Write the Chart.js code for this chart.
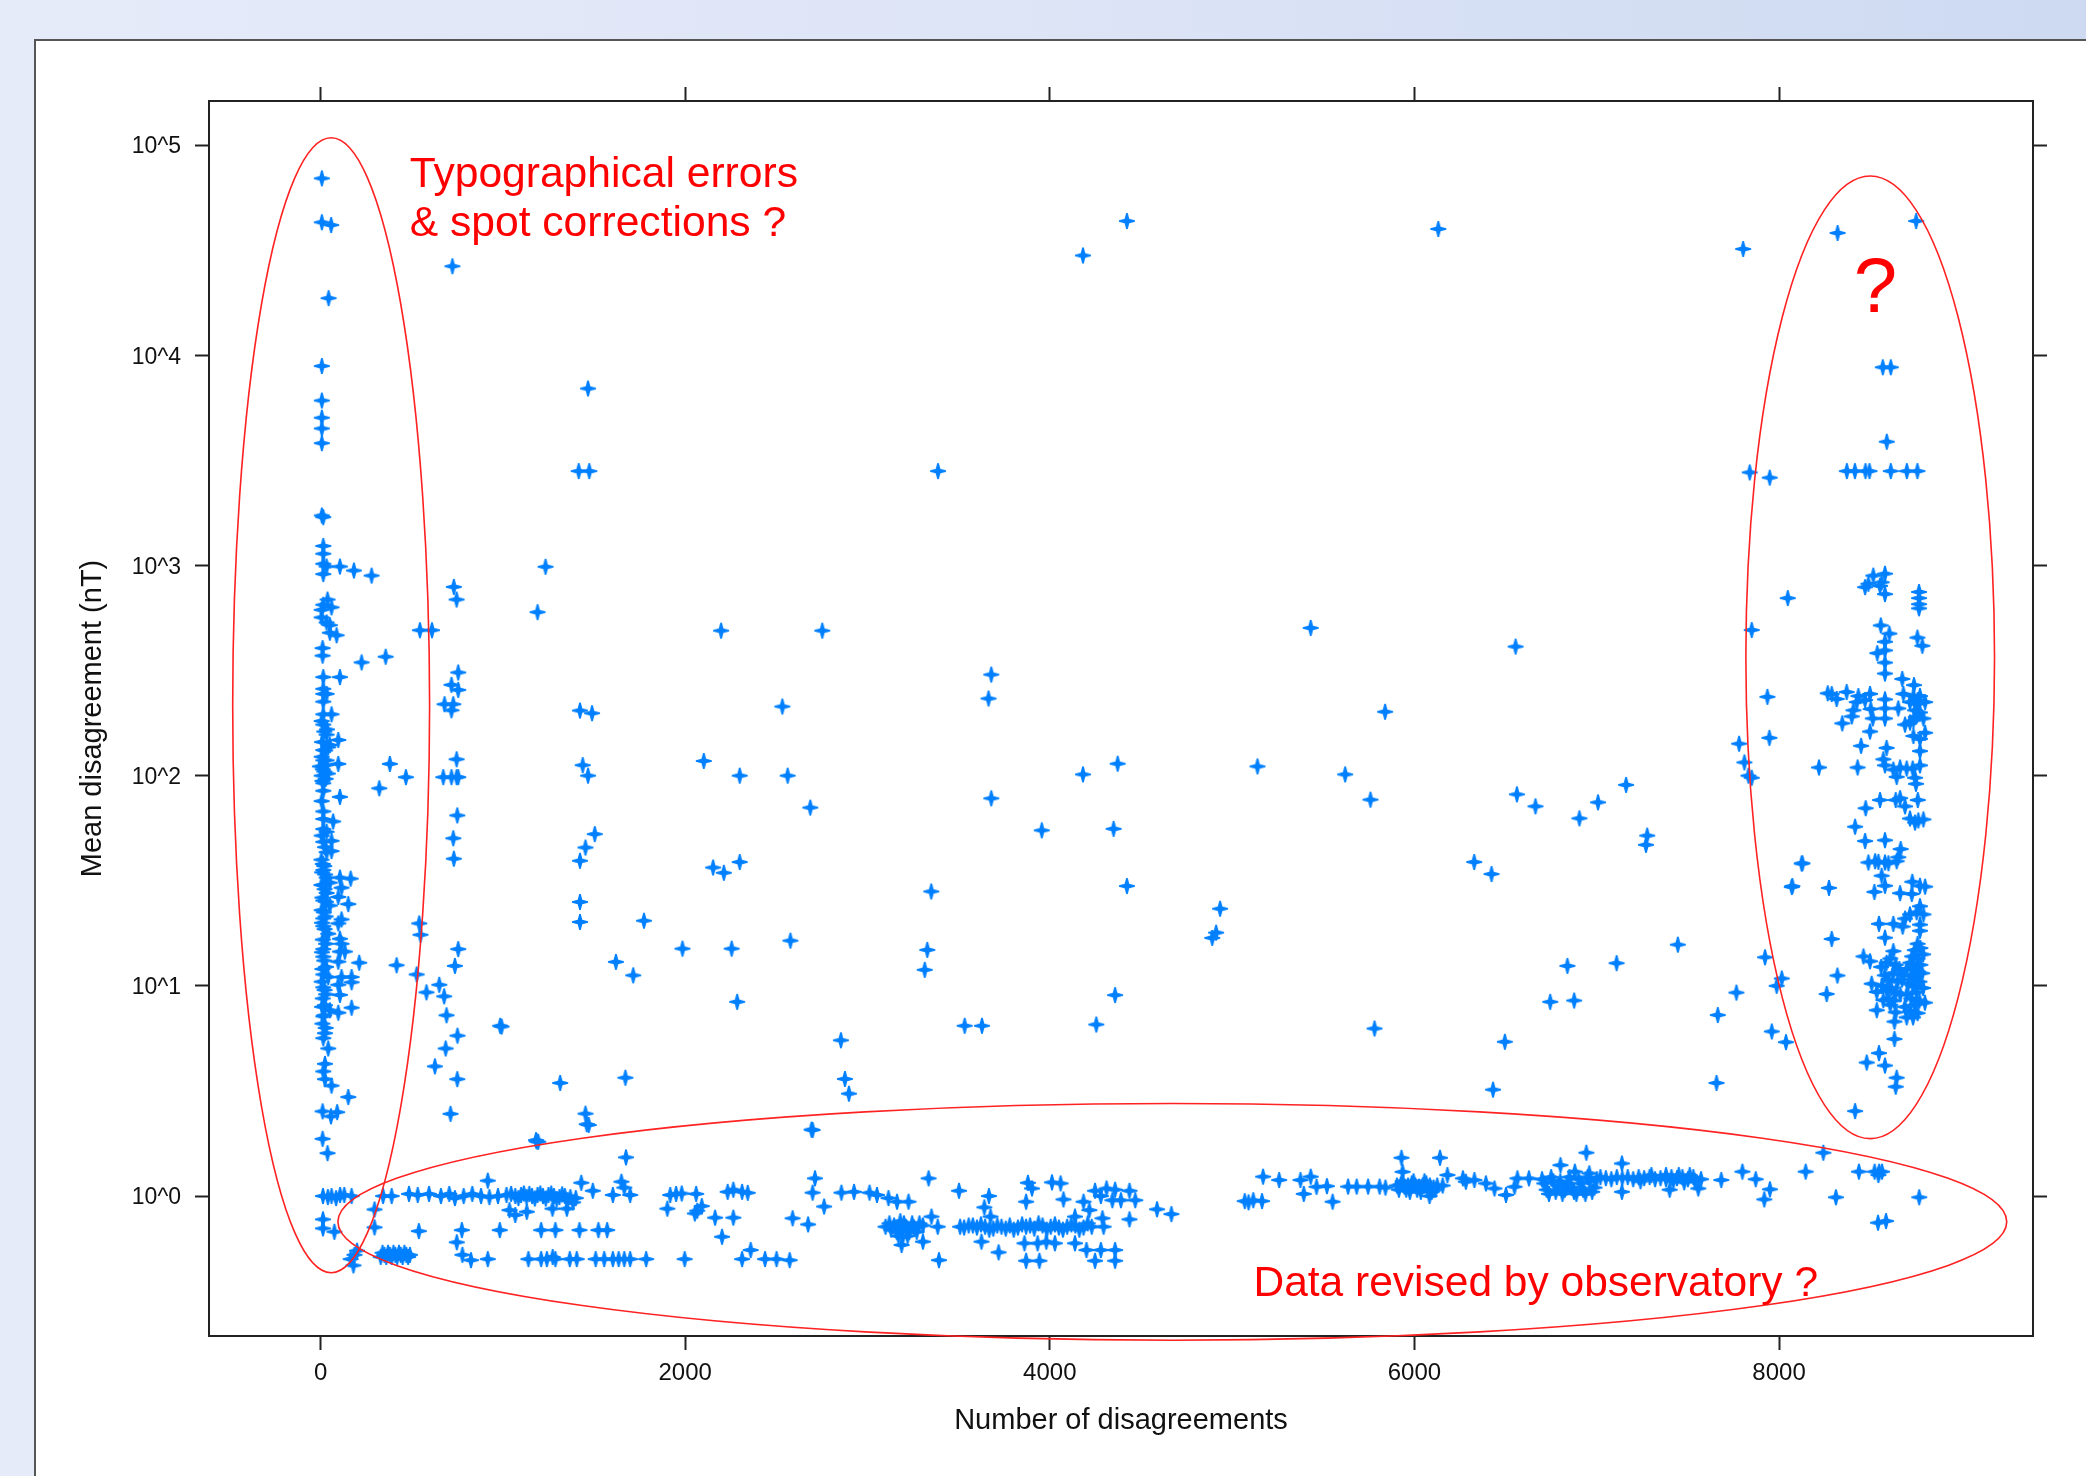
<!DOCTYPE html>
<html>
<head>
<meta charset="utf-8">
<title>Mean disagreement vs number of disagreements</title>
<script src="https://cdn.jsdelivr.net/npm/chart.js@4/dist/chart.umd.min.js"></script>
<style>
html, body { margin: 0; padding: 0; width: 2086px; height: 1476px; overflow: hidden; }
body { background: linear-gradient(90deg, #e5ebf9 0%, #dde4f6 50%, #cddaf1 100%); position: relative; }
#panel { position: absolute; left: 34px; top: 39px; right: 0; bottom: 0; background: #fff; border-left: 2px solid #555; border-top: 2px solid #555; }
#chart { position: absolute; left: 0; top: 0; }
</style>
</head>
<body>
<div id="panel"></div>
<canvas id="chart" width="2086" height="1476"></canvas>
<script>
/* data: [number of disagreements, log10(mean disagreement in nT)] */
var typoTop = [[7,4.842],[7,4.633],[58,4.62],[44,4.272],[7,3.949],[7,3.785],[7,3.703],[7,3.652],[7,3.582],
    [7,3.238],[15,3.23],[15,3.093],[15,3.056],[15,3.008],[33,2.995],[106,2.995],[183,2.976],[280,2.952],[15,2.959]];
var typoColumn = [[38,2.838],[60,2.801],[15,2.813],[6,2.789],[6,2.753],[33,2.729],[51,2.716],[88,2.668],[51,2.68],
    [11,2.607],[11,2.571],[225,2.539],[357,2.566],[15,2.469],[106,2.469],[15,2.413],[15,2.389],[33,2.389],[15,2.352],
    [15,2.292],[60,2.292],[15,2.243],[33,2.195],[97,2.17],[51,2.146],[15,2.122],[42,2.135],[15,2.073],[33,2.073],
    [97,2.056],[-4,2.044],[6,2],[15,1.964],[20,2.02],[28,1.985],[10,1.975],[106,1.899],[15,1.928],[6,1.879],[15,1.83],
    [15,1.794],[69,1.782],[15,1.746],[33,1.733],[60,1.69],[15,1.685],[33,1.636],[60,1.641],[6,1.715],[24,1.66],
    [15,1.551],[33,1.515],[106,1.515],[165,1.51],[15,1.479],[51,1.491],[115,1.467],[33,1.442],[97,1.423],[152,1.389],
    [15,1.406],[51,1.382],[15,1.321],[115,1.316],[97,1.297],[15,1.284],[42,1.248],[106,1.224],[115,1.2],[15,1.175],
    [106,1.163],[133,1.163],[15,1.139],[97,1.115],[212,1.11],[15,1.054],[42,1.042],[115,1.042],[170,1.042],[15,.993],
    [97,1.005],[170,1.017],[106,.957],[24,.908],[170,.896],[97,.872],[15,.855],[51,.884],[24,.775],[15,.751],[42,.702],
    [24,.629],[15,.593],[24,.556],[60,.525],[152,.471],[11,.403],[57,.379],[91,.399],[11,.272],[38,.204],
    [5,1.6],[12,1.58],[20,1.57],[8,1.54],[25,1.53],[5,1.48],[22,1.46],[10,1.42],[30,1.4],[6,1.36],[18,1.35],[28,1.33],
    [8,1.3],[22,1.27],[12,1.22],[30,1.2],[8,1.16],[20,1.12],[10,1.08],[30,1.09],[6,1.02],[22,.98],[12,.94],[30,.96],
    [8,.9],[20,.86],[10,.82],[28,.8],[6,2.26],[20,2.21],[35,2.22],[8,2.16],[25,2.12],[6,2.09],[30,2.05],[12,2.03],[40,2.01]];
var nearColumn = [[731,2.898],[746,2.838],[545,2.692],[611,2.692],[755,2.491],[718,2.432],[755,2.408],[680,2.34],
    [728,2.34],[718,2.311],[746,2.078],[380,2.056],[468,1.993],[673,1.993],[718,1.993],[746,1.993],[755,1.993],
    [322,1.94],[750,1.811],[728,1.702],[731,1.605],[541,1.297],[548,1.243],[755,1.175],[417,1.098],[737,1.095],
    [527,1.054],[651,1.005],[581,.969],[678,.95],[691,.86],[993,.806],[751,.763],[686,.702],[627,.617],[750,.556],
    [713,.391],[1185,.26]];
var midPoints = [[723,4.424],[1467,3.842],[1416,3.449],[1474,3.449],[3387,3.449],[1190,2.778],[1234,2.994],[2197,2.69],
    [2752,2.69],[5431,2.703],[6555,2.614],[5839,2.304],[3679,2.481],[3664,2.367],[1423,2.31],[1489,2.297],[2533,2.329],
    [1438,2.05],[1467,2],[2102,2.07],[2299,2],[2562,2],[2686,1.848],[3679,1.892],[4182,2.006],[4372,2.057],[5139,2.044],
    [5620,2.006],[5759,1.886],[3956,1.74],[4350,1.747],[4423,1.475],[6328,1.589],[6423,1.532],[6562,1.911],[6664,1.854],
    [6905,1.797],[7007,1.873],[7161,1.956],[7277,1.715],[7270,1.671],[7781,2.152],[7810,2.063],[7832,2],[1504,1.722],
    [1453,1.658],[1423,1.595],[1423,1.399],[1423,1.304],[1774,1.31],[1620,1.114],[1715,1.05],[1985,1.177],[2255,1.177],
    [2153,1.563],[2212,1.538],[2299,1.589],[2577,1.215],[2285,.924],[3350,1.449],[3328,1.171],[3314,1.076],[3533,.81],
    [3628,.81],[4358,.956],[4255,.816],[4934,1.367],[4891,1.228],[4912,1.253],[5781,.797],[6745,.924],[6876,.93],
    [6839,1.095],[7109,1.108],[7445,1.196],[6496,.734],[6431,.506],[7664,.861],[7766,.968],[7657,.538],[2854,.741],
    [2876,.557],[2898,.487],[2693,.316],[1672,.563],[1314,.538],[985,.81],[1453,.392],[1460,.342],[1182,.266],
    [4182,4.475],[4423,4.639],[6131,4.601],[7803,4.506]];
var revisedLeft = [[13,0],[60,0],[107,.005],[170,0],[40,-.005],[85,-.01],[130,.005],[13,-.111],[13,-.154],[76,-.17],
    [296,-.064],[296,-.149],[539,-.167],[775,-.162],[983,-.162],[747,-.22],[1210,-.162],[1288,-.162],[1420,-.162],
    [1524,-.162],[1572,-.162],[186,-.28],[165,-.3],[200,-.26],[180,-.33],[330,-.29],[350,-.28],[370,-.27],[390,-.29],
    [410,-.28],[430,-.27],[450,-.29],[470,-.28],[490,-.28],[340,-.27],[360,-.29],[380,-.28],[400,-.27],[420,-.29],
    [440,-.28],[460,-.27],[480,-.29],[778,-.28],[825,-.305],[917,-.3],[1140,-.3],[1210,-.3],
    [1241,-.3],[1273,-.29],[1288,-.3],[1367,-.3],[1405,-.3],[1509,-.3],[1556,-.3],[1603,-.3],[1635,-.3],[1666,-.3],
    [1698,-.3],[1786,-.3],[1997,-.3],[2312,-.3],[2359,-.257],[2438,-.3],[2501,-.3],[2573,-.305]];
var revisedRow = [[343,0],[390,0],[485,.01],[533,.005],[595,.01],[660,0],[706,.01],[737,-.01],[785,0],[832,.01],[880,0],
    [926,-.005],[973,0],[1020,.005],[1068,0],[1100,.005],[1130,-.005],[1160,0],[1190,.005],[1220,0],[1250,.005],
    [1280,0],[1310,-.005],[1340,0],[1370,-.005],[1400,-.01],[1045,.01],[1085,-.01],[1115,.012],[1145,.01],[1175,-.012],
    [1205,.012],[1235,-.012],[1265,.012],[1295,-.014],[1325,.008],[1355,-.02],[1385,-.03],[917,.073],[1430,.063],[1650,.068],[1272,-.06],[1351,-.06],
    [1493,.025],[1603,.005],[1698,.005],[1666,.04],[1036,-.067],[1068,-.09],[1131,-.075],[1902,-.06],[1950,.01],[1918,.005],
    [1981,.012],[2060,.01],[2066,-.07],[2091,-.048],[2053,-.083],[2164,-.103],[2264,-.103],[2202,-.194],[2233,.02],
    [2264,.03],[2312,.02],[2343,.015],[2589,-.106],[2674,-.135],[2762,-.05],[2699,.016],[2712,.084],[2857,.016],[2926,.02],
    [3011,.016],[3052,.005],[3115,-.01],[3162,-.027],[3225,-.027],[1675,.184],[2699,.314],[1471,.338],[1194,.258]];
var revisedMiddle = [[3099,-.146],[3146,-.14],[3178,-.15],[3210,-.146],[3256,-.15],[3304,-.14],[3385,-.146],[3193,-.194],
    [3304,-.217],[3187,-.233],[3351,-.098],[3160,-.17],[3230,-.17],[3120,-.13],[3180,-.12],[3130,-.16],[3170,-.19],
    [3200,-.13],[3220,-.19],[3245,-.13],[3270,-.17],[3285,-.13],
    [3508,-.146],[3555,-.14],[3600,-.15],[3645,-.146],[3690,-.155],[3735,-.146],[3780,-.14],[3825,-.15],[3870,-.146],
    [3915,-.155],[3960,-.14],[4005,-.146],[4050,-.15],[4095,-.146],[4140,-.14],[4185,-.15],[4230,-.146],[4295,-.146],
    [3530,-.15],[3578,-.14],[3622,-.135],[3668,-.16],[3712,-.14],[3758,-.155],[3802,-.16],[3848,-.135],[3892,-.14],
    [3938,-.13],[3983,-.16],[4028,-.135],[4072,-.16],[4118,-.135],[4162,-.16],[4208,-.13],
    [3625,-.217],[3719,-.268],[3861,-.225],[3933,-.225],[3981,-.217],[4028,-.225],[4138,-.225],[4201,-.257],[4280,-.257],
    [4358,-.257],[3870,-.308],[3943,-.308],[4248,-.308],[4358,-.308],[3675,-.098],[4138,-.098],[4289,-.106],[4437,-.111],
    [3666,0],[3641,-.054],[3870,-.027],[3335,.084],[3502,.025],[3392,-.305],[3880,.063],[3902,.036],[4012,.065],[4059,.06],
    [4075,-.016],[4185,-.027],[4217,-.067],[4248,.025],[4311,.036],[4358,.03],[4437,.025],[4280,0],[4343,-.02],[4390,-.02],
    [4469,-.02],[4588,-.063],[4667,-.086]];
var revisedRight = [[5069,-.024],[5116,-.02],[5164,-.024],[5090,-.03],[5170,.092],[5258,.076],[5375,.076],[5431,.092],
    [5393,.01],[5463,.044],[5520,.047],[5551,-.027],[5636,.045],[5683,.045],[5746,.045],[5809,.045],[5841,.04],
    [5904,.05],[5925,.055],[5945,.045],[5965,.05],[5985,.06],[6005,.05],[6025,.045],[6045,.05],[6065,.06],[6085,.05],
    [6105,.04],[6125,.05],[6155,.05],[5915,.03],[5935,.07],[5955,.03],[5975,.02],[5995,.07],[6015,.03],[6035,.02],
    [6055,.07],[6075,.03],[6095,.02],[6115,.03],[5929,.182],[6140,.182],[5935,.115],[6083,0],[6181,.1],[6266,.084],[6282,.068],
    [6329,.076],[6392,.06],[6439,.036],[6502,.005],[6549,.044],[6565,.084],[6628,.084],[6700,.08],[6725,.03],[6750,.09],
    [6775,.02],[6800,.07],[6825,.03],[6850,.09],[6875,.02],[6900,.08],[6925,.03],[6950,.09],[6975,.02],[7000,.08],
    [6712,.06],[6738,.01],[6762,.07],[6788,.05],[6812,.01],[6838,.06],[6862,.04],[6888,.01],[6912,.06],[6938,.01],
    [6962,.07],[6988,.04],[6801,.147],
    [6943,.206],[6880,.116],[7138,.155],[6959,.108],[7020,.09],[7050,.085],[7080,.08],[7110,.09],[7140,.085],[7170,.09],
    [7200,.08],[7230,.09],[7260,.085],[7290,.09],[7320,.08],[7350,.085],[7380,.08],[7410,.09],[7440,.085],[7470,.09],
    [7500,.08],[7530,.09],[7572,.08],[7420,.07],[7450,.1],[7480,.065],[7510,.1],[7540,.07],[7380,.1],[7300,.1],[7240,.07],
    [7138,.02],[7400,.03],[7557,.036],[7683,.076],[7799,.116],[7872,.08],[7950,.032],
    [7919,-.016],[8146,.116],[8243,.206],[8438,.116],[8524,.116],[8549,.116],[8565,.116],[8545,.1],[8312,-.006],
    [8769,-.006],[8543,-.127],[8587,-.119]];
var rightUpper = [[8321,4.582],[8752,4.639],[8569,3.943],[8613,3.943],[8591,3.589],[8372,3.449],[8416,3.449],[8474,3.449],
    [8496,3.449],[8613,3.449],[8701,3.449],[8759,3.449],[7839,3.443],[7949,3.418],[8581,2.961],[8517,2.952],[8490,2.913],
    [8472,2.897],[8554,2.903],[8581,2.864],[8563,2.92],[8768,2.874],[8768,2.845],[8768,2.816],[8768,2.796],[8048,2.845],
    [7850,2.693],[8558,2.715],[8605,2.676],[8581,2.637],[8581,2.596],[8539,2.583],[8581,2.538],[8581,2.486],[8676,2.46],
    [8759,2.657],[8786,2.618],[7936,2.375],[7947,2.18],[7850,1.99]];
var rightMiddle = [[8267,2.392],[8289,2.388],[8316,2.365],[8371,2.398],[8435,2.379],[8499,2.389],[8472,2.36],[8426,2.35],
    [8581,2.363],[8408,2.311],[8399,2.282],[8503,2.317],[8514,2.272],[8581,2.32],[8581,2.272],[8347,2.249],[8499,2.21],
    [8450,2.142],[8654,2.32],[8740,2.431],[8682,2.389],[8737,2.379],[8773,2.379],[8801,2.35],[8718,2.35],[8755,2.34],
    [8746,2.311],[8773,2.301],[8792,2.272],[8737,2.262],[8691,2.243],[8718,2.253],[8750,2.28],[8760,2.36],[8801,2.204],
    [8737,2.189],[8773,2.175],[8773,2.117],[8773,2.049],[8590,2.132],[8572,2.078],[8581,2.049],[8219,2.039],[8431,2.039],
    [8627,2.029],[8664,2.039],[8700,2.034],[8733,2.034],[8645,1.994],[8746,1.99],[8751,1.961],[8554,1.884],[8640,1.884],
    [8664,1.893],[8691,1.854],[8761,1.884],[8475,1.845],[8417,1.757],[8472,1.689],[8581,1.693],[8718,1.796],[8746,1.777],
    [8792,1.792],[8764,1.787],[8667,1.651],[8654,1.612],[8490,1.587],[8527,1.593],[8545,1.59],[8581,1.587],[8600,1.583],
    [8645,1.593],[8128,1.583],[8070,1.47],[8274,1.466],[8581,1.476],[8563,1.524],[8523,1.447],[8664,1.441],[8731,1.495],
    [8773,1.476],[8801,1.472],[8728,1.437]];
var rightLower = [[8773,1.379],[8755,1.35],[8792,1.34],[8718,1.34],[8691,1.32],[8773,1.291],[8773,1.262],[8548,1.295],
    [8627,1.295],[8678,1.282],[8581,1.229],[8289,1.223],[8627,1.165],[8463,1.14],[8499,1.117],[7923,1.136],[8320,1.049],
    [8261,.961],[8015,1.035],[7987,1],[8508,1.01],[8536,.971],[8572,.932],[8536,.884],[8640,.874],[8633,.83],[8633,.747],
    [7960,.783],[8038,.732],[8548,.68],[8481,.635],[8581,.621],[8645,.563],[8640,.52],[8417,.404],[8073,1.475],[8124,1.582],
    [8760,1.2],[8775,1.18],[8745,1.17],[8790,1.15],[8730,1.14],[8760,1.13],[8720,1.11],[8775,1.1],[8740,1.09],[8700,1.08],
    [8760,1.07],[8785,1.06],[8725,1.05],[8750,1.04],[8680,1.05],[8770,1.02],[8710,1.01],[8735,1],[8790,.99],[8755,.97],
    [8700,.96],[8725,.94],[8770,.93],[8745,.91],[8800,.92],[8690,.9],[8720,.88],[8760,.87],[8735,.85],[8700,.85],
    [8560,1.09],[8590,1.11],[8610,1.13],[8640,1.1],[8660,1.08],[8580,1.05],[8600,1.03],[8625,1.06],[8650,1.02],[8675,1.03],
    [8565,1],[8590,.98],[8615,.99],[8640,.97],[8665,.96],[8600,.94],[8630,.93],[8610,.91]];

var xTicks = [0, 2000, 4000, 6000, 8000];
var yTicks = [0, 1, 2, 3, 4, 5];
var xLimits = [-612, 9393];
var yLimits = [-0.666, 5.21];

/* red notes: centre x, centre y, half width, half height, in axis units */
var noteEllipses = [[58, 2.335, 540, 2.70], [8500, 2.563, 682, 2.29], [4672, -0.123, 4577, 0.563]];
var noteTexts = [
    ["Typographical errors", 489, 4.80, 42.6],
    ["& spot corrections ?", 489, 4.57, 42.6],
    ["Data revised by observatory ?", 5117, -0.475, 42.5],
    ["?", 8410, 4.205, 78]
];

var allPoints = [].concat(typoTop, typoColumn, nearColumn, midPoints, revisedLeft, revisedRow, revisedMiddle,
    revisedRight, rightUpper, rightMiddle, rightLower);

/* plus with tapered arms, a little soft like the original */
function makeMarker() {
    var size = 18, c = size / 2, w = 2.3, t = 0.8, a = 1;
    var pts = [[c - t, a], [c + t, a], [c + w, c - w], [size - a, c - t], [size - a, c + t], [c + w, c + w],
        [c + t, size - a], [c - t, size - a], [c - w, c + w], [a, c + t], [a, c - t], [c - w, c - w]];
    var cv = document.createElement("canvas");
    cv.width = size;
    cv.height = size;
    var g = cv.getContext("2d");
    g.filter = "blur(0.4px)";
    g.fillStyle = "#0080ff";
    g.beginPath();
    pts.forEach(function(p, i) {
        if (i == 0) g.moveTo(p[0], p[1]); else g.lineTo(p[0], p[1]);
    });
    g.closePath();
    g.fill();
    return cv;
}

var notesPlugin = {
    id: "notes",
    afterDatasetsDraw: function(chart) {
        var ctx = chart.ctx, sx = chart.scales.x, sy = chart.scales.y;
        ctx.save();
        ctx.strokeStyle = "#ff2222";
        ctx.lineWidth = 1.6;
        noteEllipses.forEach(function(e) {
            var cx = sx.getPixelForValue(e[0]), cy = sy.getPixelForValue(e[1]);
            var rx = sx.getPixelForValue(e[0] + e[2]) - cx;
            var ry = cy - sy.getPixelForValue(e[1] + e[3]);
            ctx.beginPath();
            ctx.ellipse(cx, cy, rx, ry, 0, 0, Math.PI * 2);
            ctx.stroke();
        });
        ctx.fillStyle = "#ff0000";
        ctx.textAlign = "left";
        ctx.textBaseline = "alphabetic";
        noteTexts.forEach(function(t) {
            ctx.font = t[3] + 'px "Liberation Sans"';
            ctx.fillText(t[0], sx.getPixelForValue(t[1]), sy.getPixelForValue(t[2]));
        });
        ctx.restore();
    }
};

function axisGrid() {
    return { drawOnChartArea: false, color: "#222", tickColor: "#222", tickWidth: 2, tickLength: 14 };
}
var axisBorder = { display: true, color: "#222", width: 2 };
var titleFont = { family: "Liberation Sans", size: 29 };

new Chart(document.getElementById("chart").getContext("2d"), {
    type: "scatter",
    data: {
        datasets: [{
            data: allPoints.map(function(p) { return { x: p[0], y: p[1] }; }),
            pointStyle: makeMarker(),
            pointRadius: 8,
            showLine: false
        }]
    },
    plugins: [notesPlugin],
    options: {
        responsive: false,
        animation: false,
        layout: { padding: 0 },
        plugins: { legend: { display: false }, tooltip: { enabled: false } },
        scales: {
            x: {
                type: "linear", position: "bottom", min: xLimits[0], max: xLimits[1],
                afterBuildTicks: function(s) { s.ticks = xTicks.map(function(v) { return { value: v }; }); },
                afterFit: function(s) { s.height = 140; },
                grid: axisGrid(), border: axisBorder,
                ticks: { font: { family: "Liberation Sans", size: 24 }, color: "#111", padding: 9, maxRotation: 0, autoSkip: false, callback: function(v) { return String(v); } },
                title: { display: true, text: "Number of disagreements", color: "#111", font: titleFont, padding: { top: 0, bottom: 38 } }
            },
            y: {
                type: "linear", position: "left", min: yLimits[0], max: yLimits[1],
                afterBuildTicks: function(s) { s.ticks = yTicks.map(function(v) { return { value: v }; }); },
                afterFit: function(s) { s.width = 209; },
                grid: axisGrid(), border: axisBorder,
                ticks: { font: { family: "Liberation Sans", size: 23 }, color: "#111", padding: 14, labelOffset: 2, autoSkip: false, callback: function(v) { return "10^" + v; } },
                title: { display: true, text: "Mean disagreement (nT)", color: "#111", font: titleFont, padding: { top: 76, bottom: 0 } }
            },
            x2: {
                type: "linear", axis: "x", position: "top", min: xLimits[0], max: xLimits[1],
                afterBuildTicks: function(s) { s.ticks = xTicks.map(function(v) { return { value: v }; }); },
                afterFit: function(s) { s.height = 101; },
                grid: axisGrid(), border: axisBorder,
                ticks: { display: false }
            },
            y2: {
                type: "linear", axis: "y", position: "right", min: yLimits[0], max: yLimits[1],
                afterBuildTicks: function(s) { s.ticks = yTicks.map(function(v) { return { value: v }; }); },
                afterFit: function(s) { s.width = 53; },
                grid: axisGrid(), border: axisBorder,
                ticks: { display: false }
            }
        }
    }
});
</script>
</body>
</html>
